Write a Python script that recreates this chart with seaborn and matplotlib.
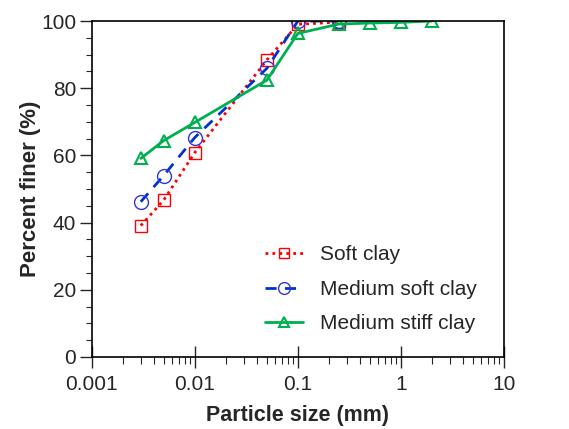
import numpy as np
import matplotlib
matplotlib.use("Agg")
import matplotlib.pyplot as plt
import seaborn as sns
from matplotlib.ticker import LogLocator, FixedLocator, FuncFormatter

# grain size distribution data (particle size in mm, percent finer)
soft_size = [0.003, 0.005, 0.01, 0.05, 0.1, 0.25]
soft_finer = [39.1, 46.7, 60.8, 88.4, 99.0, 99.7]

medsoft_size = [0.003, 0.005, 0.01, 0.05, 0.1, 0.25]
medsoft_finer = [46.2, 54.0, 65.3, 85.9, 100.0, 100.0]

medstiff_size = [0.003, 0.005, 0.01, 0.05, 0.1, 0.25, 0.5, 1, 2]
medstiff_finer = [59.1, 64.4, 69.8, 82.4, 96.3, 99.1, 99.4, 99.6, 100.0]

labels = ["Soft clay", "Medium soft clay", "Medium stiff clay"]
x_ticks = [0.001, 0.01, 0.1, 1, 10]
x_ticklabels = ["0.001", "0.01", "0.1", "1", "10"]

sns.set_style("ticks")
plt.rcParams["font.family"] = ["Liberation Sans", "DejaVu Sans"]

fig = plt.figure(figsize=(5.69, 4.29), dpi=100)
ax = fig.add_axes([0.161, 0.168, 0.725, 0.783])

sns.lineplot(x=soft_size, y=soft_finer, ax=ax, color="#ff0000", linestyle=(0, (1, 1.5)),
             linewidth=2, marker="s", markersize=9, markerfacecolor="none",
             markeredgecolor="#ff0000", markeredgewidth=1, label=labels[0])
sns.lineplot(x=medsoft_size, y=medsoft_finer, ax=ax, color="#0033cc", linestyle=(0, (4, 3)),
             linewidth=2, marker="o", markersize=10, markerfacecolor="none",
             markeredgecolor="#3333dd", markeredgewidth=1, label=labels[1])
sns.lineplot(x=medstiff_size, y=medstiff_finer, ax=ax, color="#00b050", linestyle="-",
             linewidth=2, marker="^", markersize=9, markerfacecolor="none",
             markeredgecolor="#00b050", markeredgewidth=1.5, label=labels[2])

ax.set_xscale("log")
ax.set_xlim(0.001, 10)
ax.set_ylim(0, 100)
ax.xaxis.set_major_locator(FixedLocator(x_ticks))
ax.xaxis.set_major_formatter(FuncFormatter(lambda v, p: x_ticklabels[x_ticks.index(v)] if v in x_ticks else ""))
ax.xaxis.set_minor_locator(LogLocator(base=10, subs=np.arange(2, 10), numticks=20))
ax.set_yticks(np.arange(0, 101, 20))
ax.yaxis.set_minor_locator(FixedLocator(np.arange(0, 101, 5)))

for s in ax.spines.values():
    s.set_visible(True)
    s.set_linewidth(1.2)
    s.set_color("black")

ax.tick_params(axis="x", which="major", direction="inout", length=16, width=1, labelsize=15, pad=5)
ax.tick_params(axis="x", which="minor", direction="out", length=5, width=0.8)
ax.tick_params(axis="y", which="major", direction="out", length=9, width=1, labelsize=15, pad=2)
ax.tick_params(axis="y", which="minor", direction="out", length=4, width=0.8)

ax.set_xlabel("Particle size (mm)", fontsize=15.5, fontweight="bold", labelpad=8)
ax.set_ylabel("Percent finer (%)", fontsize=16, fontweight="bold", labelpad=0)

ax.legend(loc="lower right", bbox_to_anchor=(0.953, 0.045), frameon=False, fontsize=15,
          handlelength=1.8, markerscale=0.85, labelspacing=0.75, borderaxespad=0,
          handletextpad=0.8)

fig.savefig("out.png", dpi=100)
